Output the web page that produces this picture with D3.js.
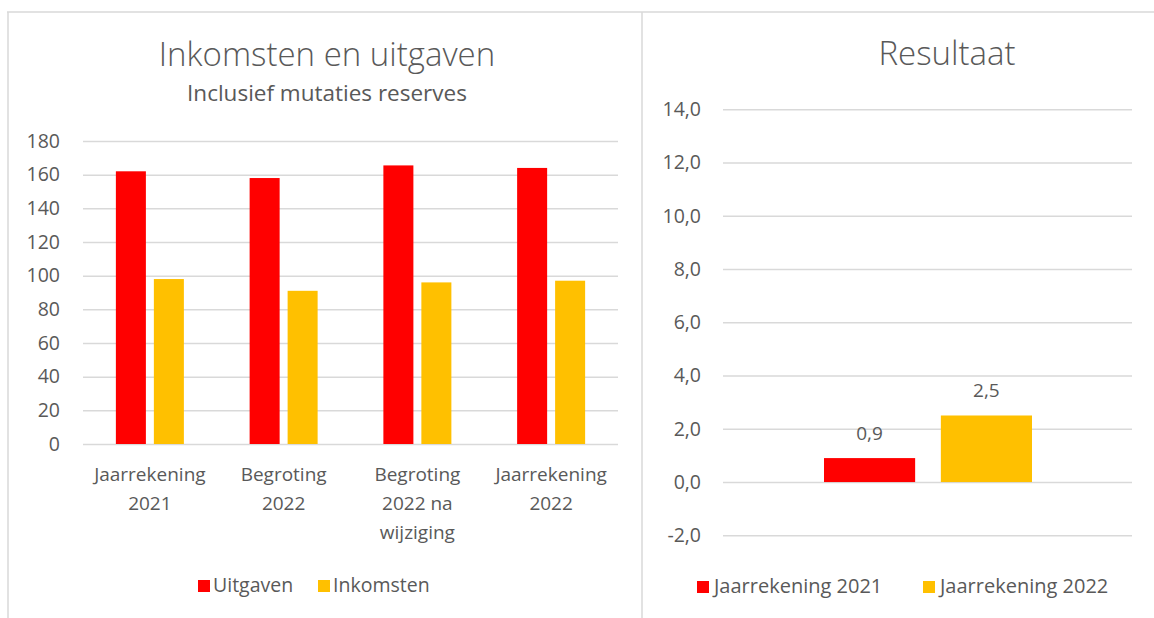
<!DOCTYPE html>
<html>
<head>
<meta charset="utf-8">
<script src="https://cdn.jsdelivr.net/npm/d3@7"></script>
<style>
  body { margin: 0; background: #fff; }
  svg { display: block; font-family: "Open Sans", Lato, sans-serif; }
  .tick text { fill: #595959; }
</style>
</head>
<body>
<script>
// left chart data
var categories = ["Jaarrekening 2021", "Begroting 2022", "Begroting 2022 na wijziging", "Jaarrekening 2022"];
var categoryLines = [["Jaarrekening", "2021"], ["Begroting", "2022"], ["Begroting", "2022 na", "wijziging"], ["Jaarrekening", "2022"]];
var series = ["Uitgaven", "Inkomsten"];
var uitgaven = [162, 158, 165.5, 164];
var inkomsten = [98, 91, 96, 97];
var leftTicks = [0, 20, 40, 60, 80, 100, 120, 140, 160, 180];

// right chart data
var resultSeries = ["Jaarrekening 2021", "Jaarrekening 2022"];
var resultValues = [0.9, 2.5];
var rightTicks = [-2, 0, 2, 4, 6, 8, 10, 12, 14];

var colors = ["#ff0000", "#ffc000"];
var grey = "#595959", gridCol = "#d9d9d9";
var fs = 19, fsTick = 19.5;

var W = 1154, H = 618;
var svg = d3.select("body").append("svg").attr("width", W).attr("height", H);

// frame
svg.append("line").attr("x1", 7).attr("x2", W).attr("y1", 12).attr("y2", 12).attr("stroke", "#d9d9d9").attr("stroke-width", 1.5);
svg.append("line").attr("x1", 8).attr("x2", 8).attr("y1", 12).attr("y2", H).attr("stroke", "#d9d9d9").attr("stroke-width", 1.5);
svg.append("line").attr("x1", 642).attr("x2", 642).attr("y1", 12).attr("y2", H).attr("stroke", "#d9d9d9").attr("stroke-width", 1.5);

// ---------- left chart ----------
svg.append("text").attr("x", 327).attr("y", 66).attr("text-anchor", "middle")
  .attr("font-size", 33).attr("font-weight", 300).attr("fill", grey).text("Inkomsten en uitgaven");
svg.append("text").attr("x", 327).attr("y", 101).attr("text-anchor", "middle")
  .attr("font-size", 22.5).attr("fill", grey).text("Inclusief mutaties reserves");

var x0 = d3.scaleBand().domain(categories).range([83, 618]).padding(0);
var x1 = d3.scaleBand().domain(series)
  .range([x0.bandwidth() / 2 - 34, x0.bandwidth() / 2 + 34]).paddingInner(0.21);
var yL = d3.scaleLinear().domain([0, 180]).range([444, 141]);

var gyL = svg.append("g").attr("transform", "translate(83,0)")
  .call(d3.axisLeft(yL).tickValues(leftTicks).tickSize(-535).tickPadding(23).tickFormat(d3.format("d")));
gyL.select(".domain").remove();
gyL.selectAll(".tick line").attr("stroke", gridCol).attr("stroke-width", 1.5);
gyL.selectAll(".tick text").attr("font-size", fsTick).attr("font-family", "'Open Sans', sans-serif");

var rows = categories.map(function(c, i){ return {cat: c, vals: [uitgaven[i], inkomsten[i]]}; });
var grp = svg.selectAll("g.cat").data(rows).enter().append("g")
  .attr("class", "cat").attr("transform", function(d){ return "translate(" + x0(d.cat) + ",0)"; });
grp.selectAll("rect").data(function(d){ return d.vals.map(function(v, j){ return {s: series[j], v: v, j: j}; }); })
  .enter().append("rect")
  .attr("x", function(d){ return x1(d.s); })
  .attr("width", x1.bandwidth())
  .attr("y", function(d){ return yL(d.v); })
  .attr("height", function(d){ return yL(0) - yL(d.v); })
  .attr("fill", function(d){ return colors[d.j]; });

// category labels
categories.forEach(function(c, i){
  var t = svg.append("text").attr("text-anchor", "middle").attr("font-size", fs).attr("fill", grey);
  categoryLines[i].forEach(function(line, k){
    t.append("tspan").attr("x", x0(c) + x0.bandwidth() / 2).attr("y", 481 + k * 29).text(line);
  });
});

// left legend
var legL = [{x: 198, label: series[0], c: colors[0]}, {x: 318, label: series[1], c: colors[1]}];
legL.forEach(function(d){
  svg.append("rect").attr("x", d.x).attr("y", 580).attr("width", 12).attr("height", 12).attr("fill", d.c);
  svg.append("text").attr("x", d.x + 15).attr("y", 592).attr("font-size", fs + 0.5).attr("fill", grey).text(d.label);
});

// ---------- right chart ----------
svg.append("text").attr("x", 947).attr("y", 65).attr("text-anchor", "middle")
  .attr("font-size", 33).attr("font-weight", 300).attr("fill", grey).text("Resultaat");

var yR = d3.scaleLinear().domain([-2, 14]).range([535.3, 109.3]);
var xR = d3.scaleBand().domain(resultSeries).range([824, 1032]).paddingInner(0.22);

var gyR = svg.append("g").attr("transform", "translate(723,0)")
  .call(d3.axisLeft(yR).tickValues(rightTicks).tickSize(-409).tickPadding(22)
    .tickFormat(function(d){ return d3.format(".1f")(d).replace(".", ",").replace("−", "-"); }));
gyR.select(".domain").remove();
gyR.selectAll(".tick line").attr("stroke", gridCol).attr("stroke-width", 1.5);
gyR.selectAll(".tick text").attr("font-size", fsTick).attr("font-family", "'Open Sans', sans-serif");

svg.selectAll("rect.res").data(resultValues).enter().append("rect").attr("class", "res")
  .attr("x", function(d, i){ return xR(resultSeries[i]); })
  .attr("width", xR.bandwidth())
  .attr("y", function(d){ return yR(Math.max(0, d)); })
  .attr("height", function(d){ return Math.abs(yR(0) - yR(d)); })
  .attr("fill", function(d, i){ return colors[i]; });

svg.selectAll("text.lab").data(resultValues).enter().append("text").attr("class", "lab")
  .attr("x", function(d, i){ return xR(resultSeries[i]) + xR.bandwidth() / 2; })
  .attr("y", function(d){ return yR(d) - 18; })
  .attr("text-anchor", "middle").attr("font-size", fs).attr("fill", grey)
  .text(function(d){ return d3.format(".1f")(d).replace(".", ","); });

// right legend
var legR = [{x: 697, label: resultSeries[0], c: colors[0]}, {x: 923, label: resultSeries[1], c: colors[1]}];
legR.forEach(function(d){
  svg.append("rect").attr("x", d.x).attr("y", 581).attr("width", 12).attr("height", 12).attr("fill", d.c);
  svg.append("text").attr("x", d.x + 17).attr("y", 593).attr("font-size", fs + 1).attr("fill", grey).text(d.label);
});
</script>
</body>
</html>
